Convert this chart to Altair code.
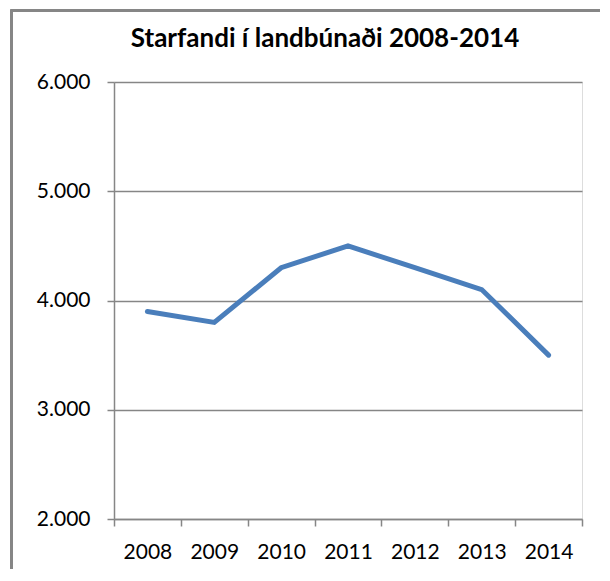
import altair as alt
import pandas as pd

years = ["2008", "2009", "2010", "2011", "2012", "2013", "2014"]
workers = [3900, 3800, 4300, 4500, 4300, 4100, 3500]

df = pd.DataFrame({"year": years, "value": workers})

GRAY = "#868686"
FONT = "Lato"

base = alt.Chart(df)

frame = base.mark_rect(fill=None, stroke=GRAY, strokeWidth=2, clip=False).encode(
    x=alt.value(-102.5), x2=alt.value(700),
    y=alt.value(-71.5), y2=alt.value(700),
)

line = base.mark_line(color="#4A7EBB", strokeWidth=5, strokeCap="round").encode(
    x=alt.X("year:O", bandPosition=0.5,
            scale=alt.Scale(type="band", paddingInner=0, paddingOuter=0),
            axis=alt.Axis(title=None, labelAngle=0, tickBand="extent",
                          domainColor=GRAY, domainWidth=1.5, tickColor=GRAY,
                          tickWidth=1.5, tickSize=7, labelPadding=15,
                          labelFont=FONT, labelFontSize=21, labelColor="#000",
                          grid=False)),
    y=alt.Y("value:Q", scale=alt.Scale(domain=[2000, 6000], nice=False, zero=False),
            axis=alt.Axis(title=None, values=[2000, 3000, 4000, 5000, 6000],
                          labelExpr="replace(format(datum.value, ','), ',', '.')",
                          domainColor=GRAY, domainWidth=1.5, tickColor=GRAY,
                          tickWidth=1.5, tickSize=7, labelPadding=17,
                          labelFont=FONT, labelFontSize=21, labelColor="#000",
                          grid=True, gridColor=GRAY, gridWidth=1.5)),
)

chart = alt.layer(frame, line).properties(
    width=468, height=437,
    title=alt.TitleParams("Starfandi í landbúnaði 2008-2014", font=FONT,
                          fontSize=26, fontWeight="bold", color="#000",
                          anchor="middle", frame="group", dx=-23, offset=0,
                          baseline="alphabetic", dy=63.5),
    autosize=alt.AutoSizeParams(type="none"),
    padding={"left": 106, "top": 74, "right": 18, "bottom": 50},
).configure_view(stroke=None).configure(background="white")

chart.save("out.html", embed_options={"renderer": "svg", "actions": False})
